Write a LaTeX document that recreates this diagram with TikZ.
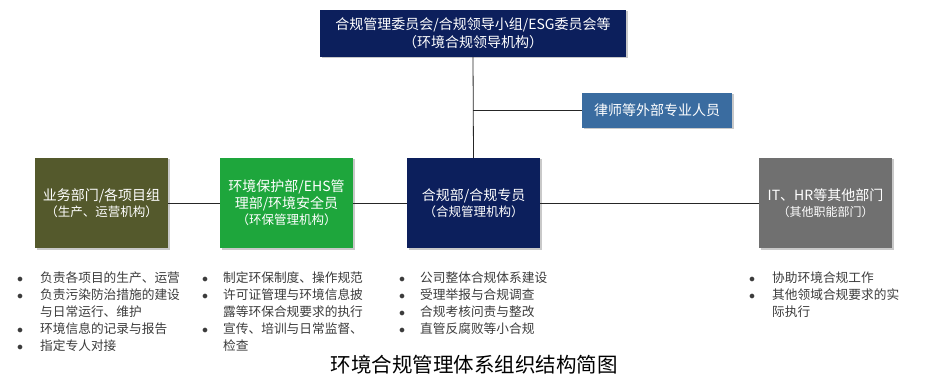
\documentclass[tikz,border=0pt]{standalone}
\usepackage{fontspec}
\setmainfont{Noto Sans CJK SC}
\usetikzlibrary{shadows}

\definecolor{navyblue}{RGB}{12,31,92}
\definecolor{steelblue}{RGB}{58,108,160}
\definecolor{olivebox}{RGB}{84,89,44}
\definecolor{greenbox}{RGB}{30,166,60}
\definecolor{graybox}{RGB}{112,112,112}
\definecolor{listgray}{RGB}{60,60,60}

\newcommand{\unitsub}[1]{{\fontsize{12.5}{15}\selectfont #1}}

\tikzset{
  unit/.style={minimum width=133pt, minimum height=90pt, inner sep=2pt, align=center,
    text=white, font=\fontsize{14}{16.5}\selectfont,
    drop shadow={shadow xshift=1.5pt, shadow yshift=-1.5pt, opacity=.35, fill=black!60}},
  duty/.style={anchor=north west, inner sep=0pt, text=listgray,
    font=\fontsize{12.7}{17}\selectfont},
  link/.style={line width=0.8pt, draw=black!85}
}

\begin{document}
\begin{tikzpicture}[x=1pt, y=-1pt]
  \fill[white] (0,0) rectangle (936,379);
  \useasboundingbox (0,0) rectangle (936,379);

  % top level
  \node[unit, fill=navyblue, minimum width=306pt, minimum height=47pt,
        font=\fontsize{14}{18}\selectfont] (lead) at (473,33.5)
    {合规管理委员会/合规领导小组/ESG委员会等\\（环境合规领导机构）};
  \node[unit, fill=steelblue, minimum width=150pt, minimum height=35pt] (lawyer) at (657,110.5)
    {律师等外部专业人员};

  % departments
  \node[unit, fill=olivebox] (biz) at (101.5,203)
    {业务部门/各项目组\\\unitsub{（生产、运营机构）}};
  \node[unit, fill=greenbox] (ehs) at (286.5,203)
    {环境保护部/EHS管\\理部/环境安全员\\\unitsub{（环保管理机构）}};
  \node[unit, fill=navyblue] (comp) at (473.5,203)
    {合规部/合规专员\\\unitsub{（合规管理机构）}};
  \node[unit, fill=graybox] (other) at (825.5,203)
    {IT、HR等其他部门\\{\fontsize{12}{15}\selectfont（其他职能部门）}};

  \draw[link] (lead.south) -- (comp.north);
  \draw[link] (lead.south |- lawyer.west) -- (lawyer.west);
  \draw[link] (biz.east) -- (ehs.west);
  \draw[link] (ehs.east) -- (comp.west);
  \draw[link] (comp.east) -- (other.west);

  % duties
  \node[duty] (bizlist) at (17,270) {\begin{tabular}{@{}p{23pt}@{}l@{}}
    $\bullet$ & 负责各项目的生产、运营\\
    $\bullet$ & 负责污染防治措施的建设\\
              & 与日常运行、维护\\
    $\bullet$ & 环境信息的记录与报告\\
    $\bullet$ & 指定专人对接
  \end{tabular}};
  \node[duty] (ehslist) at (202,270) {\begin{tabular}{@{}p{21pt}@{}l@{}}
    $\bullet$ & 制定环保制度、操作规范\\
    $\bullet$ & 许可证管理与环境信息披\\
              & 露等环保合规要求的执行\\
    $\bullet$ & 宣传、培训与日常监督、\\
              & 检查
  \end{tabular}};
  \node[duty] (complist) at (399,270) {\begin{tabular}{@{}p{21pt}@{}l@{}}
    $\bullet$ & 公司整体合规体系建设\\
    $\bullet$ & 受理举报与合规调查\\
    $\bullet$ & 合规考核问责与整改\\
    $\bullet$ & 直管反腐败等小合规
  \end{tabular}};
  \node[duty] (otherlist) at (749,270) {\begin{tabular}{@{}p{23pt}@{}l@{}}
    $\bullet$ & 协助环境合规工作\\
    $\bullet$ & 其他领域合规要求的实\\
              & 际执行
  \end{tabular}};

  \node[font=\fontsize{20.5}{24}\selectfont] (title) at (474,365) {环境合规管理体系组织结构简图};
\end{tikzpicture}
\end{document}
